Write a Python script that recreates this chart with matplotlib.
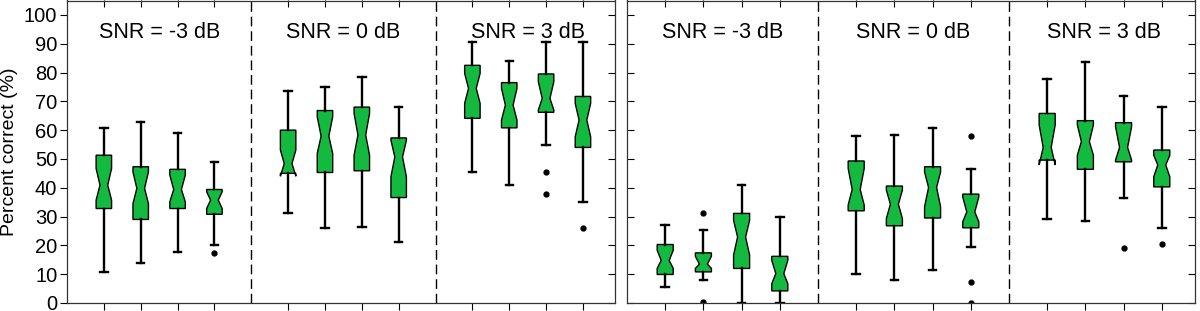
import matplotlib
matplotlib.use("Agg")
import matplotlib.pyplot as plt

plt.rcParams['font.family'] = ['Liberation Sans', 'DejaVu Sans']

# ---------------- data ----------------
positions = [1, 2, 3, 4, 6, 7, 8, 9, 11, 12, 13, 14]
dividers = [5, 10]
snr_titles = ["SNR = -3 dB", "SNR = 0 dB", "SNR = 3 dB"]
title_x = [2.5, 7.5, 12.5]
tick_labels = ["Unprocessed", "Processed", "Proc. + ENV", "Proc. + TFS"] * 3
yticks = [0, 10, 20, 30, 40, 50, 60, 70, 80, 90, 100]
ylabel = "Percent correct (%)"

# left panel
L_whishi = [60.8, 62.8, 58.9, 49.1, 73.7, 75.1, 78.6, 67.9, 90.5, 84.0, 90.5, 90.5]
L_q3     = [51.3, 47.3, 46.4, 39.4, 60.0, 66.8, 68.0, 57.3, 82.5, 76.5, 79.5, 71.7]
L_cihi   = [46.7, 45.5, 44.4, 38.6, 53.1, 64.7, 65.8, 56.5, 79.7, 74.5, 76.8, 69.3]
L_med    = [40.9, 39.8, 39.4, 35.7, 48.4, 57.9, 58.3, 50.7, 74.5, 68.7, 71.0, 63.5]
L_cilo   = [35.7, 34.5, 35.1, 32.8, 44.0, 51.9, 51.3, 43.8, 69.3, 63.5, 67.0, 57.7]
L_q1     = [32.8, 29.0, 32.8, 30.8, 45.0, 45.3, 45.9, 36.6, 64.1, 60.8, 66.2, 54.0]
L_whislo = [10.7, 13.9, 17.7, 20.1, 31.4, 26.0, 26.4, 21.3, 45.5, 40.9, 54.7, 35.1]
L_fliers = [[], [], [], [17.4], [], [], [], [], [], [], [45.3, 37.7], [26.0]]

# right panel
R_whishi = [27.2, 25.3, 40.9, 29.7, 57.9, 58.3, 60.8, 46.5, 77.6, 83.8, 71.8, 67.9]
R_q3     = [20.3, 17.4, 31.1, 16.2, 49.3, 40.6, 47.3, 37.8, 65.8, 63.3, 62.6, 53.1]
R_cihi   = [18.3, 16.2, 28.7, 14.8, 46.7, 39.2, 45.5, 36.8, 61.8, 61.8, 61.2, 51.3]
R_med    = [14.8, 13.5, 22.9, 10.2, 39.4, 34.3, 40.1, 31.6, 54.0, 56.0, 54.0, 47.9]
R_cilo   = [12.0, 12.0, 16.6, 6.7, 34.0, 29.3, 33.4, 28.2, 47.9, 51.3, 49.6, 43.8]
R_q1     = [9.9, 10.8, 12.0, 4.2, 32.0, 26.8, 29.5, 26.1, 49.6, 46.4, 49.0, 40.3]
R_whislo = [5.6, 7.9, 0.0, 0.0, 9.9, 7.9, 11.6, 19.5, 29.2, 28.5, 36.5, 26.1]
R_fliers = [[], [31.4, 0.3], [], [], [], [], [], [58.0, 7.2, 0.0], [], [], [19.0], [20.6]]

GREEN = '#13BA3F'

fig = plt.figure(figsize=(12, 3.11), dpi=100)
W, H = 1200, 311
axL = fig.add_axes([67 / W, 8 / H, (615 - 67) / W, 302.5 / H])
axR = fig.add_axes([627 / W, 8 / H, (1195 - 627) / W, 302.5 / H])


def make_stats(whishi, q3, cihi, med, cilo, q1, whislo, fliers):
    st = []
    for i in range(len(med)):
        st.append(dict(med=med[i], q1=q1[i], q3=q3[i], cilo=cilo[i], cihi=cihi[i],
                       whislo=whislo[i], whishi=whishi[i], fliers=fliers[i]))
    return st


def draw_panel(ax, stats, left_labels):
    ax.bxp(stats, positions=positions, widths=0.42, shownotches=True,
           patch_artist=True, capwidths=0.2,
           boxprops=dict(facecolor=GREEN, edgecolor='black', linewidth=1.0),
           whiskerprops=dict(color='black', linewidth=1.7),
           capprops=dict(color='black', linewidth=1.7),
           medianprops=dict(linewidth=0),
           flierprops=dict(marker='o', markerfacecolor='black', markeredgecolor='black',
                           markersize=3.5, linestyle='none'),
           manage_ticks=False)
    for d in dividers:
        ax.axvline(d, color='black', linewidth=1.0, dashes=(7, 3.5))
    for tx, tt in zip(title_x, snr_titles):
        ax.text(tx, 94.0, tt, ha='center', va='center', fontsize=15.5)
    ax.set_xlim(0, 14.87)
    ax.set_ylim(0, 105)
    ax.set_xticks(positions)
    ax.set_xticklabels(tick_labels, rotation=45, ha='right', va='top',
                       rotation_mode='anchor', fontsize=9)
    ax.tick_params(axis='x', direction='out', length=5, width=0.8, pad=2)
    ax.set_yticks(yticks)
    for s in ax.spines.values():
        s.set_color('#333333')
        s.set_linewidth(0.9)
    top = ax.secondary_xaxis('top')
    top.set_xticks(positions)
    top.tick_params(axis='x', direction='in', length=5, width=0.8, labeltop=False)
    top.spines['top'].set_visible(False)
    if left_labels:
        ax.tick_params(axis='y', direction='out', length=5, width=0.8, labelsize=14.5, pad=2)
        ax.set_ylabel(ylabel, fontsize=14, labelpad=4)
        right = ax.secondary_yaxis('right')
        right.set_yticks(yticks)
        right.tick_params(axis='y', direction='in', length=5, width=0.8, labelright=False)
        right.spines['right'].set_visible(False)
    else:
        ax.tick_params(axis='y', direction='in', length=5, width=0.8, left=True, right=True,
                       labelleft=False)


draw_panel(axL, make_stats(L_whishi, L_q3, L_cihi, L_med, L_cilo, L_q1, L_whislo, L_fliers), True)
draw_panel(axR, make_stats(R_whishi, R_q3, R_cihi, R_med, R_cilo, R_q1, R_whislo, R_fliers), False)

fig.savefig('out.png', dpi=100)
